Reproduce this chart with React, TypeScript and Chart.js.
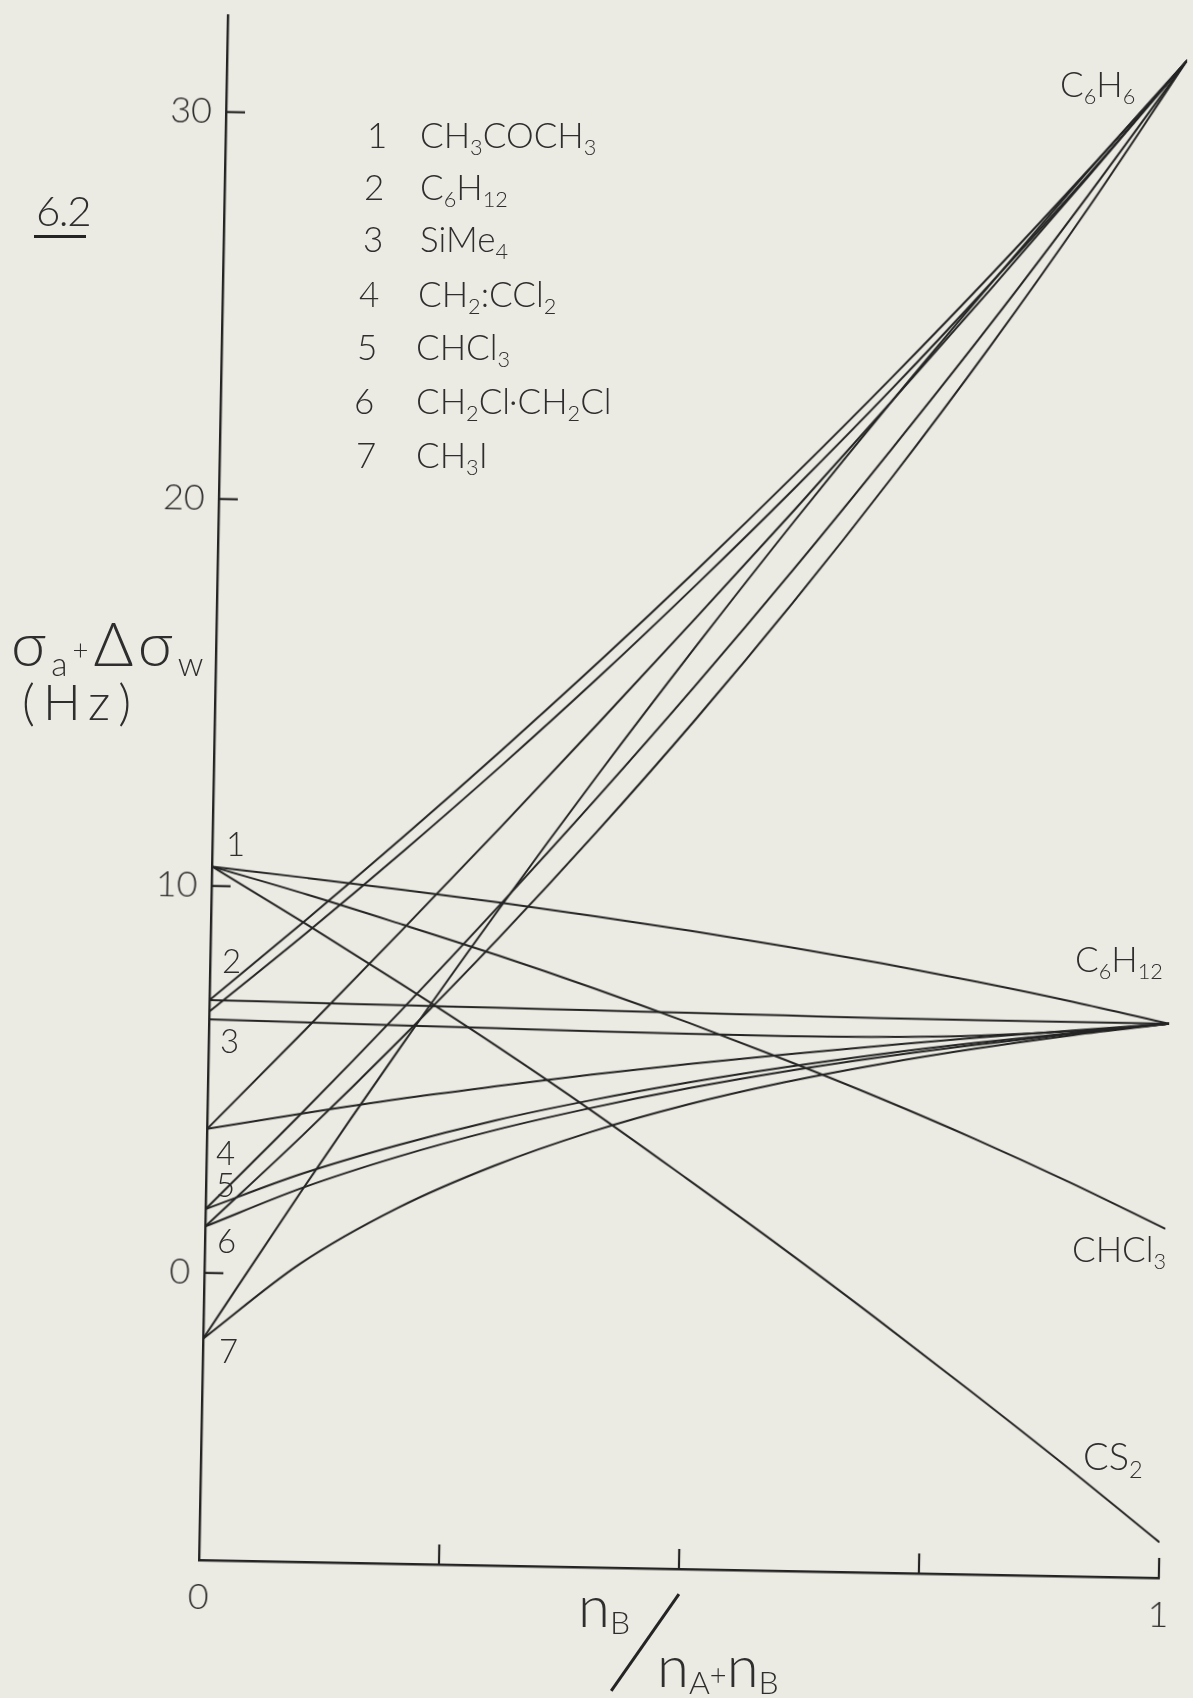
import React, { useEffect, useRef } from "react";
import { Chart, registerables } from "chart.js";

Chart.register(...registerables);

// ---------------- data ----------------
const molFraction = [0, 0.1, 0.2, 0.3, 0.4, 0.5, 0.6, 0.7, 0.8, 0.9, 1];

// solvent 1 (CH3COCH3)
const acetoneToC6H12 = [10.5, 10.25, 9.99, 9.71, 9.4, 9.07, 8.71, 8.32, 7.89, 7.42, 6.9];
const acetoneToCHCl3 = [10.5, 9.82, 9.09, 8.34, 7.54, 6.69, 5.79, 4.84, 3.83, 2.75, 1.6];
const acetoneToCS2 = [10.5, 9.05, 7.55, 6.0, 4.38, 2.68, 0.95, -0.84, -2.68, -4.56, -6.5];
// solvent 2 (C6H12)
const cyclohexaneToC6H6 = [7.05, 9.19, 11.39, 13.66, 16.0, 18.42, 20.92, 23.5, 26.17, 28.94, 31.8];
const cyclohexaneToC6H12 = [7.05, 7.03, 7.01, 6.99, 6.97, 6.95, 6.93, 6.91, 6.9, 6.9, 6.9];
// solvent 3 (SiMe4)
const siMe4ToC6H6 = [6.75, 8.84, 11.01, 13.26, 15.6, 18.04, 20.57, 23.2, 25.95, 28.81, 31.8];
const siMe4ToC6H12 = [6.55, 6.52, 6.49, 6.46, 6.43, 6.41, 6.4, 6.42, 6.5, 6.66, 6.9];
// solvent 4 (CH2:CCl2)
const vinylideneToC6H6 = [3.72, 6.32, 8.97, 11.66, 14.4, 17.18, 20.0, 22.88, 25.8, 28.77, 31.8];
const vinylideneToC6H12 = [3.72, 4.17, 4.59, 4.96, 5.31, 5.63, 5.92, 6.19, 6.45, 6.68, 6.9];
// solvent 5 (CHCl3)
const chloroformToC6H6 = [1.65, 4.22, 6.88, 9.63, 12.47, 15.41, 18.46, 21.62, 24.88, 28.28, 31.8];
const chloroformToC6H12 = [1.65, 2.61, 3.4, 4.08, 4.65, 5.15, 5.59, 5.98, 6.32, 6.62, 6.9];
// solvent 6 (CH2Cl.CH2Cl)
const dichloroethaneToC6H6 = [1.2, 3.61, 6.14, 8.79, 11.58, 14.51, 17.6, 20.86, 24.3, 27.94, 31.8];
const dichloroethaneToC6H12 = [1.2, 2.24, 3.1, 3.83, 4.45, 5.0, 5.48, 5.9, 6.27, 6.6, 6.9];
// solvent 7 (CH3I)
const methylIodideToC6H6 = [-1.7, 2.18, 5.93, 9.55, 13.05, 16.43, 19.71, 22.88, 25.94, 28.92, 31.8];
const methylIodideToC6H12 = [-1.7, 0.29, 1.77, 2.91, 3.83, 4.58, 5.2, 5.72, 6.17, 6.56, 6.9];

const yTickValues = [0, 10, 20, 30];
const xTickValues = [0, 0.25, 0.5, 0.75, 1];
const xTickLabels = ["0", "", "", "", "1"];

const legendNumbers = ["1", "2", "3", "4", "5", "6", "7"];
const legendNames = [
  "CH_{3}COCH_{3}",
  "C_{6}H_{12}",
  "SiMe_{4}",
  "CH_{2}:CCl_{2}",
  "CHCl_{3}",
  "CH_{2}Cl·CH_{2}Cl",
  "CH_{3}I",
];
const endLabels = ["C_{6}H_{6}", "C_{6}H_{12}", "CHCl_{3}", "CS_{2}"];

const allSeries = [
  acetoneToC6H12,
  acetoneToCHCl3,
  acetoneToCS2,
  cyclohexaneToC6H6,
  cyclohexaneToC6H12,
  siMe4ToC6H6,
  siMe4ToC6H12,
  vinylideneToC6H6,
  vinylideneToC6H12,
  chloroformToC6H6,
  chloroformToC6H12,
  dichloroethaneToC6H6,
  dichloroethaneToC6H12,
  methylIodideToC6H6,
  methylIodideToC6H12,
];

// ---------------- styling / layout ----------------
const BG = "#ecebe3";
const INK = "#242424";
const TEXT = "#2e2e2e";
const FONT = "Lato, 'DejaVu Sans', sans-serif";

// plot frame (before the slight tilt of the scanned page)
const ORIGIN_X = 199;
const ORIGIN_Y = 1560;
const PLOT_RIGHT = 1159;
const PLOT_TOP = 15;
const TILT_DEG = 1.07;

const legendNumLeft = [367, 364, 363, 359, 357, 354, 356];
const legendNameLeft = [420, 420, 420, 418, 416, 416, 416];
const legendCapTop = [123, 175, 227, 282, 335, 389, 443];

const pointLabelPos = [
  [226, 833],
  [222, 950],
  [220, 1030],
  [216, 1142],
  [216, 1174],
  [217, 1230],
  [219, 1340],
];
const endLabelPos = [
  [1060, 72, 35],
  [1075, 947, 35],
  [1072, 1237, 35],
  [1083, 1442, 38],
];

function Formula({ text }: { text: string }) {
  const parts = text.split(/(_\{[^}]*\})/);
  return (
    <>
      {parts.map((p, i) =>
        p.startsWith("_{") ? (
          <span key={i} style={{ fontSize: "0.62em", position: "relative", top: "0.34em" }}>
            {p.slice(2, -1)}
          </span>
        ) : (
          <span key={i}>{p}</span>
        )
      )}
    </>
  );
}

function Label({
  left,
  capTop,
  size,
  children,
  style,
}: {
  left: number;
  capTop: number;
  size: number;
  children: React.ReactNode;
  style?: React.CSSProperties;
}) {
  return (
    <div
      style={{
        position: "absolute",
        left,
        top: capTop - 0.17 * size,
        fontSize: size,
        lineHeight: 1,
        whiteSpace: "nowrap",
        ...style,
      }}
    >
      {children}
    </div>
  );
}

const inwardTicks = {
  id: "inwardTicks",
  afterDatasetsDraw(chart: any) {
    const { ctx, chartArea, scales } = chart;
    ctx.save();
    ctx.strokeStyle = INK;
    ctx.lineWidth = 2.2;
    yTickValues.forEach((v) => {
      const py = scales.y.getPixelForValue(v);
      ctx.beginPath();
      ctx.moveTo(chartArea.left, py);
      ctx.lineTo(chartArea.left + 19, py);
      ctx.stroke();
    });
    xTickValues.slice(1).forEach((v) => {
      const px = scales.x.getPixelForValue(v);
      ctx.beginPath();
      ctx.moveTo(px, chartArea.bottom);
      ctx.lineTo(px, chartArea.bottom - 20);
      ctx.stroke();
    });
    ctx.restore();
  },
};

const zeroScalePadding = (s: any) => {
  s.paddingTop = 0;
  s.paddingBottom = 0;
  s.paddingLeft = 0;
  s.paddingRight = 0;
};

export default function App() {
  const canvasRef = useRef<HTMLCanvasElement>(null);

  useEffect(() => {
    document.body.style.background = BG;
    const canvas = canvasRef.current;
    if (!canvas) return;
    const chart = new Chart(canvas, {
      type: "line",
      data: {
        datasets: allSeries.map((series) => ({
          data: molFraction.map((x, i) => ({ x, y: series[i] })),
          borderColor: INK,
          borderWidth: 2,
          pointRadius: 0,
          fill: false,
          cubicInterpolationMode: "monotone" as const,
        })),
      },
      options: {
        responsive: false,
        animation: false,
        devicePixelRatio: 1,
        layout: { padding: { left: 0, right: 1193 - PLOT_RIGHT, top: PLOT_TOP, bottom: 0 } },
        plugins: {
          legend: { display: false },
          tooltip: { enabled: false },
          title: { display: false },
        },
        scales: {
          x: {
            type: "linear",
            min: 0,
            max: 1,
            afterBuildTicks: (axis: any) => {
              axis.ticks = xTickValues.map((v) => ({ value: v }));
            },
            afterFit: (s: any) => {
              s.height = 1698 - ORIGIN_Y;
              zeroScalePadding(s);
            },
            grid: { display: false, drawTicks: false },
            border: { display: true, color: INK, width: 2.4 },
            ticks: {
              autoSkip: false,
              maxRotation: 0,
              callback: (_v: any, i: number) => xTickLabels[i],
              font: { family: FONT, size: 36, weight: "300" },
              color: TEXT,
              padding: 16,
            },
          },
          y: {
            type: "linear",
            min: -7.42,
            max: 32.5,
            afterBuildTicks: (axis: any) => {
              axis.ticks = yTickValues.map((v) => ({ value: v }));
            },
            afterFit: (s: any) => {
              s.width = ORIGIN_X;
              zeroScalePadding(s);
            },
            grid: { display: false, drawTicks: false },
            border: { display: true, color: INK, width: 2.4 },
            ticks: {
              callback: (v: any) => String(v),
              font: { family: FONT, size: 36, weight: "300" },
              color: TEXT,
              padding: 14,
            },
          },
        },
      },
      plugins: [inwardTicks],
    });
    return () => chart.destroy();
  }, []);

  return (
    <div
      style={{
        position: "absolute",
        left: 0,
        top: 0,
        width: 1193,
        height: 1698,
        background: BG,
        overflow: "hidden",
        fontFamily: FONT,
        fontWeight: 300,
        color: TEXT,
      }}
    >
      <canvas
        ref={canvasRef}
        width={1193}
        height={1698}
        style={{
          position: "absolute",
          left: 0,
          top: 0,
          width: 1193,
          height: 1698,
          transformOrigin: `${ORIGIN_X}px ${ORIGIN_Y}px`,
          transform: `rotate(${TILT_DEG}deg)`,
        }}
      />

      {/* figure number */}
      <Label left={36} capTop={196} size={42} style={{ letterSpacing: -1.5 }}>
        6.2
      </Label>
      <div style={{ position: "absolute", left: 34, top: 235, width: 52, height: 2.5, background: INK }} />

      {/* legend */}
      {legendNumbers.map((n, i) => (
        <React.Fragment key={n}>
          <Label left={legendNumLeft[i]} capTop={legendCapTop[i]} size={35}>
            {n}
          </Label>
          <Label left={legendNameLeft[i]} capTop={legendCapTop[i]} size={35}>
            <Formula text={legendNames[i]} />
          </Label>
        </React.Fragment>
      ))}

      {/* numbers at the solvent end of the lines */}
      {legendNumbers.map((n, i) => (
        <Label key={"p" + n} left={pointLabelPos[i][0]} capTop={pointLabelPos[i][1]} size={33}>
          {n}
        </Label>
      ))}

      {/* end labels */}
      {endLabels.map((t, i) => (
        <Label key={t} left={endLabelPos[i][0]} capTop={endLabelPos[i][1]} size={endLabelPos[i][2]}>
          <Formula text={t} />
        </Label>
      ))}

      {/* y-axis title */}
      <Label left={11} capTop={622} size={61} style={{ letterSpacing: 5 }}>
        <span>σ</span>
        <span style={{ fontSize: "0.55em", position: "relative", top: "0.3em" }}>a</span>
        <span style={{ fontSize: "0.45em", position: "relative", top: "-0.2em" }}>+</span>
        <span>Δσ</span>
        <span style={{ fontSize: "0.55em", position: "relative", top: "0.3em" }}>w</span>
      </Label>
      <Label left={22} capTop={684} size={50} style={{ letterSpacing: 8 }}>
        (Hz)
      </Label>

      {/* x-axis title */}
      <Label left={578} capTop={1586} size={58}>
        <span>n</span>
        <span style={{ fontSize: "0.55em", position: "relative", top: "0.2em" }}>B</span>
      </Label>
      <div
        style={{
          position: "absolute",
          left: 610,
          top: 1690,
          width: 118,
          height: 2.5,
          background: INK,
          transformOrigin: "0 0",
          transform: "rotate(-55deg)",
        }}
      />
      <Label left={657} capTop={1646} size={58}>
        <span>n</span>
        <span style={{ fontSize: "0.55em", position: "relative", top: "0.2em" }}>A</span>
        <span style={{ fontSize: "0.5em", position: "relative", top: "-0.05em" }}>+</span>
        <span>n</span>
        <span style={{ fontSize: "0.55em", position: "relative", top: "0.2em" }}>B</span>
      </Label>
    </div>
  );
}
